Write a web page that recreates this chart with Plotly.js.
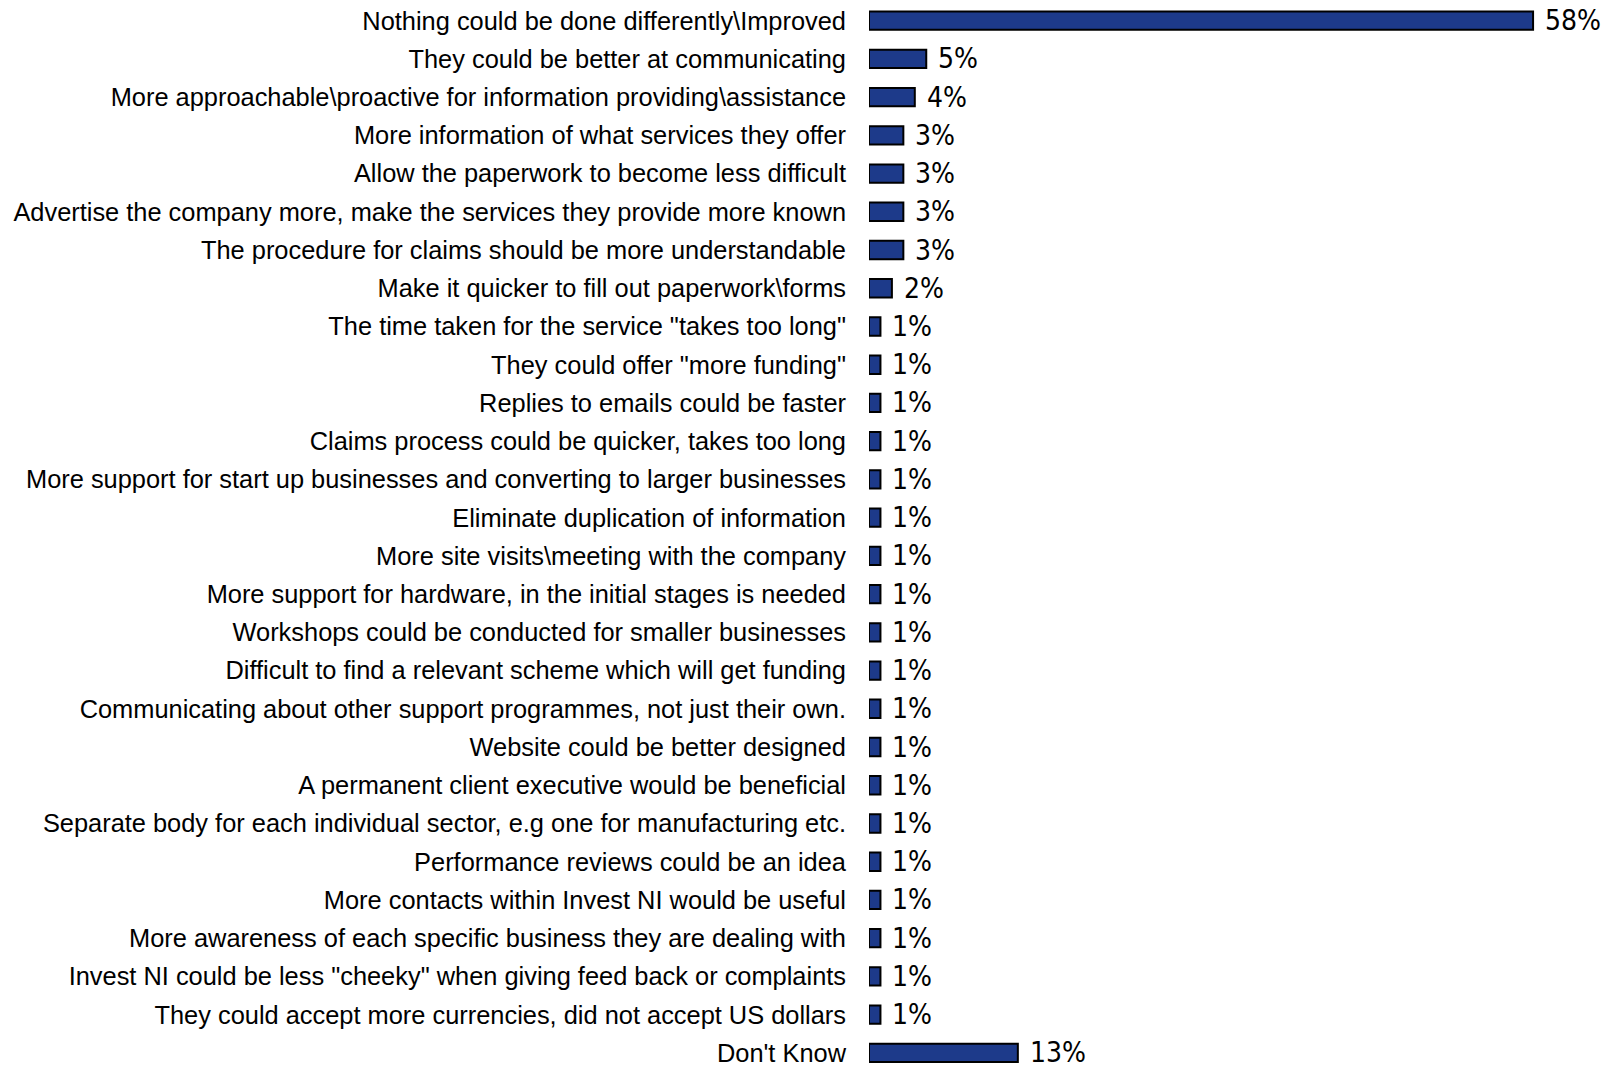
<!DOCTYPE html>
<html>
<head>
<meta charset="utf-8">
<script src="https://cdn.plot.ly/plotly-3.0.1.min.js"></script>
<style>
html,body{margin:0;padding:0;background:#fff;}
#chart{width:1606px;height:1067px;}
</style>
</head>
<body>
<div id="chart"></div>
<script>
const categories = [
  "Nothing could be done differently\\Improved",
  "They could be better at communicating",
  "More approachable\\proactive for information providing\\assistance",
  "More information of what services they offer",
  "Allow the paperwork to become less difficult",
  "Advertise the company more, make the services they provide more known",
  "The procedure for claims should be more understandable",
  "Make it quicker to fill out paperwork\\forms",
  "The time taken for the service \"takes too long\"",
  "They could offer \"more funding\"",
  "Replies to emails could be faster",
  "Claims process could be quicker, takes too long",
  "More support for start up businesses and converting to larger businesses",
  "Eliminate duplication of information",
  "More site visits\\meeting with the company",
  "More support for hardware, in the initial stages is needed",
  "Workshops could be conducted for smaller businesses",
  "Difficult to find a relevant scheme which will get funding",
  "Communicating about other support programmes, not just their own.",
  "Website could be better designed",
  "A permanent client executive would be beneficial",
  "Separate body for each individual sector, e.g one for manufacturing etc.",
  "Performance reviews could be an idea",
  "More contacts within Invest NI would be useful",
  "More awareness of each specific business they are dealing with",
  "Invest NI could be less \"cheeky\" when giving feed back or complaints",
  "They could accept more currencies, did not accept US dollars",
  "Don't Know"
];
const values = [58, 5, 4, 3, 3, 3, 3, 2, 1, 1, 1, 1, 1, 1, 1, 1, 1, 1, 1, 1, 1, 1, 1, 1, 1, 1, 1, 13];
const valueLabels = values.map(v => v + "%");

const trace = {
  type: "bar",
  orientation: "h",
  x: values,
  y: categories,
  marker: { color: "#1d3a8a", line: { color: "#000000", width: 2 } },
  hoverinfo: "none"
};

const annotations = values.map((v, i) => ({
  x: v,
  y: categories[i],
  xref: "x",
  yref: "y",
  text: valueLabels[i],
  showarrow: false,
  xanchor: "left",
  yanchor: "middle",
  xshift: 11,
  yshift: 0,
  borderpad: 0,
  font: { family: "Liberation Sans Narrow, Arial Narrow, DejaVu Sans Condensed, sans-serif", size: 28, color: "#000" }
}));

const layout = {
  width: 1606,
  height: 1067,
  margin: { l: 869, r: 0, t: 0, b: 0, pad: 0 },
  paper_bgcolor: "#fff",
  plot_bgcolor: "#fff",
  showlegend: false,
  bargap: 0.52,
  xaxis: {
    range: [0, 64.37],
    visible: false,
    showgrid: false,
    zeroline: false
  },
  yaxis: {
    type: "category",
    categoryorder: "array",
    categoryarray: categories,
    range: [27.37, -0.54],
    showgrid: false,
    zeroline: false,
    showline: false,
    ticks: "",
    ticklabelstandoff: 22,
    automargin: false,
    tickfont: { family: "Liberation Sans, Arial, sans-serif", size: 25.4, color: "#000" }
  },
  annotations: annotations
};

Plotly.newPlot("chart", [trace], layout, { displayModeBar: false, staticPlot: true });
</script>
</body>
</html>
